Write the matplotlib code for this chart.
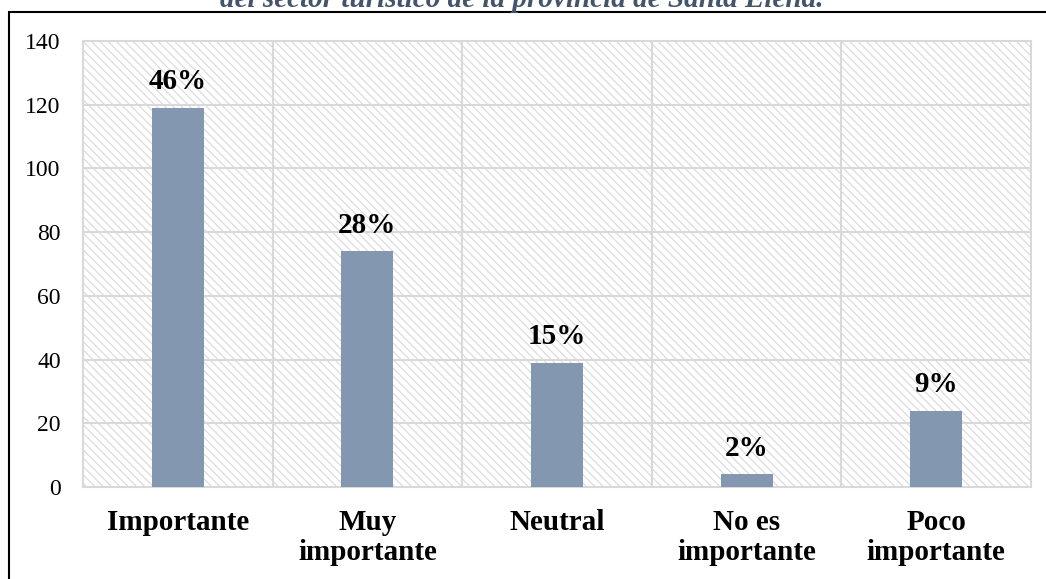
import matplotlib.pyplot as plt
from matplotlib.patches import Rectangle
import numpy as np

categorias = ['Importante', 'Muy\nimportante', 'Neutral', 'No es\nimportante', 'Poco\nimportante']
valores = [119, 74, 39, 4, 24]
porcentajes = ['46%', '28%', '15%', '2%', '9%']
titulo = 'del sector turístico de la provincia de Santa Elena.'

plt.rcParams['font.family'] = ['Liberation Serif', 'DejaVu Serif']
plt.rcParams['hatch.linewidth'] = 0.8

fig = plt.figure(figsize=(10.46, 5.79), dpi=100)
ax = fig.add_axes([83/1046, 92/579, 948/1046, 446/579])

# fondo rayado
fondo = Rectangle((0, 0), 1, 1, transform=ax.transAxes, facecolor='white',
                  edgecolor='#d9d9d9', hatch='\\\\\\\\', linewidth=0, zorder=0)
ax.add_patch(fondo)

x = np.arange(len(categorias))
ax.bar(x, valores, width=0.275, color='#8497b0', zorder=3)

for xi, v, p in zip(x, valores, porcentajes):
    ax.annotate(p, (xi, v), xytext=(0, 9), textcoords='offset points',
                ha='center', va='bottom', fontsize=21, fontweight='bold')

ax.set_xlim(-0.5, len(categorias) - 0.5)
ax.set_ylim(0, 140)
ax.set_yticks(range(0, 141, 20))
ax.set_xticks(x)
ax.set_xticklabels(categorias, fontsize=21, fontweight='bold', linespacing=1.12)
ax.tick_params(axis='y', labelsize=17, length=0, pad=16)
ax.tick_params(axis='x', length=0, pad=16)

for yv in range(20, 140, 20):
    ax.axhline(yv, color='#d9d9d9', linewidth=1.5, zorder=1)
for xv in np.arange(0.5, len(categorias) - 0.5, 1):
    ax.axvline(xv, color='#d9d9d9', linewidth=1.5, zorder=1)
for s in ax.spines.values():
    s.set_color('#d9d9d9')
    s.set_linewidth(1.5)

# marco negro del cuadro
marco = Rectangle((9/1046, -0.05), 1.1, (579 - 12)/579 + 0.05, transform=fig.transFigure,
                  facecolor='none', edgecolor='black', linewidth=1.5, clip_on=False)
fig.patches.append(marco)

fig.text(522/1046, 1 - 7/579, titulo, ha='center', va='baseline', fontsize=21,
         fontweight='bold', fontstyle='italic', color='#44546a')

fig.savefig('out.png', dpi=100)
